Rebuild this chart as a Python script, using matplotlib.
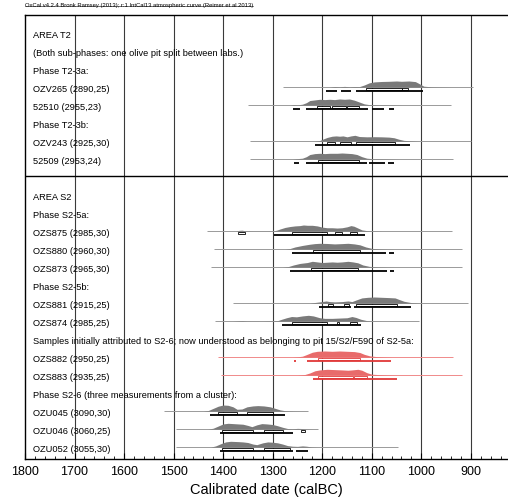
import matplotlib
matplotlib.use("Agg")
import matplotlib.pyplot as plt
from matplotlib.patches import Rectangle
from matplotlib.ticker import MultipleLocator
import numpy as np

plt.rcParams["font.family"] = ["Liberation Sans", "DejaVu Sans"]

title = "OxCal v4.2.4 Bronk Ramsey (2013); r:1 IntCal13 atmospheric curve (Reimer et al 2013)"

# text lines, one per row (row 8 is the section divider)
label_rows = [0, 1, 2, 3, 4, 5, 6, 7, 9, 10, 11, 12, 13, 14, 15, 16, 17, 18, 19, 20, 21, 22, 23]
labels = [
    "AREA T2",
    "(Both sub-phases: one olive pit split between labs.)",
    "Phase T2-3a:",
    "OZV265 (2890,25)",
    "52510 (2955,23)",
    "Phase T2-3b:",
    "OZV243 (2925,30)",
    "52509 (2953,24)",
    "AREA S2",
    "Phase S2-5a:",
    "OZS875 (2985,30)",
    "OZS880 (2960,30)",
    "OZS873 (2965,30)",
    "Phase S2-5b:",
    "OZS881 (2915,25)",
    "OZS874 (2985,25)",
    "Samples initially attributed to S2-6; now understood as belonging to pit 15/S2/F590 of S2-5a:",
    "OZS882 (2950,25)",
    "OZS883 (2935,25)",
    "Phase S2-6 (three measurements from a cluster):",
    "OZU045 (3090,30)",
    "OZU046 (3060,25)",
    "OZU052 (3055,30)",
]

# calibrated samples
sample_rows = [3, 4, 6, 7, 11, 12, 13, 15, 16, 18, 19, 21, 22, 23]
sample_red = [False] * 9 + [True, True] + [False] * 3
line_from = [1280, 1350, 1346, 1346, 1433, 1419, 1424, 1380, 1416, 1410, 1404, 1520, 1495, 1495]
line_to = [896, 941, 900, 936, 938, 918, 918, 906, 1004, 936, 918, 1229, 1209, 1047]

dist_years = [
    [1185, 1175, 1165, 1155, 1145, 1135, 1125, 1115, 1105, 1095, 1080, 1065, 1050, 1040, 1025, 1012, 1005, 995, 980, 960, 940],
    [1265, 1258, 1250, 1240, 1232, 1225, 1215, 1205, 1195, 1185, 1175, 1165, 1155, 1145, 1135, 1125, 1115, 1105, 1085, 1070, 1055, 1040],
    [1215, 1205, 1198, 1190, 1180, 1172, 1165, 1158, 1150, 1142, 1134, 1125, 1110, 1095, 1080, 1065, 1055, 1045, 1035, 1020, 1005],
    [1260, 1250, 1240, 1232, 1225, 1215, 1205, 1195, 1185, 1170, 1160, 1150, 1140, 1130, 1120, 1110, 1095, 1075, 1060, 1045],
    [1375, 1368, 1362, 1355, 1340, 1300, 1292, 1285, 1275, 1265, 1255, 1245, 1238, 1230, 1220, 1210, 1200, 1190, 1180, 1170, 1160, 1150, 1142, 1136, 1128, 1120, 1110, 1095, 1080],
    [1275, 1265, 1255, 1240, 1225, 1215, 1205, 1190, 1175, 1160, 1148, 1135, 1124, 1112, 1100, 1085, 1070, 1055],
    [1280, 1268, 1258, 1245, 1230, 1220, 1210, 1200, 1190, 1180, 1170, 1160, 1148, 1138, 1128, 1118, 1105, 1090, 1070, 1055],
    [1225, 1215, 1205, 1192, 1185, 1175, 1160, 1148, 1140, 1132, 1120, 1108, 1095, 1080, 1065, 1053, 1045, 1035, 1020, 1005, 990],
    [1380, 1370, 1362, 1352, 1320, 1290, 1282, 1272, 1262, 1252, 1240, 1228, 1218, 1205, 1195, 1180, 1165, 1150, 1140, 1132, 1122, 1110, 1095, 1080],
    [1260, 1250, 1240, 1232, 1220, 1210, 1195, 1180, 1165, 1150, 1135, 1124, 1115, 1104, 1090, 1075, 1060],
    [1250, 1235, 1225, 1215, 1205, 1190, 1175, 1160, 1148, 1140, 1128, 1120, 1110, 1100, 1085, 1070, 1050],
    [1440, 1430, 1420, 1410, 1400, 1390, 1380, 1372, 1362, 1352, 1340, 1330, 1318, 1305, 1295, 1285, 1275, 1260, 1245],
    [1430, 1420, 1410, 1400, 1390, 1380, 1370, 1360, 1350, 1342, 1332, 1322, 1312, 1300, 1290, 1280, 1270, 1260, 1250, 1242, 1232, 1220],
    [1425, 1415, 1405, 1395, 1385, 1370, 1360, 1350, 1340, 1332, 1320, 1310, 1300, 1290, 1280, 1270, 1260, 1250, 1240, 1232, 1222, 1210],
]
dist_heights = [
    [0, 0.1, 0.05, 0.12, 0.05, 0.1, 0.08, 0.35, 0.7, 0.85, 0.92, 0.95, 1.0, 0.95, 1.0, 0.9, 0.6, 0.15, 0.05, 0.02, 0],
    [0, 0.08, 0.05, 0.15, 0.4, 0.75, 0.85, 0.95, 0.9, 0.95, 0.9, 1.0, 0.95, 1.0, 0.8, 0.5, 0.2, 0.08, 0.05, 0.04, 0.03, 0],
    [0, 0.1, 0.35, 0.6, 0.8, 0.85, 0.8, 0.85, 0.7, 0.85, 0.95, 0.75, 0.7, 0.72, 0.7, 0.65, 0.55, 0.3, 0.12, 0.05, 0],
    [0, 0.08, 0.15, 0.4, 0.75, 0.9, 0.95, 0.9, 0.95, 0.95, 1.0, 0.95, 0.9, 0.75, 0.4, 0.15, 0.05, 0.04, 0.02, 0],
    [0, 0.12, 0.15, 0.05, 0.02, 0.03, 0.15, 0.35, 0.6, 0.75, 0.85, 0.9, 1.0, 0.95, 0.95, 0.85, 0.65, 0.55, 0.55, 0.5, 0.55, 0.7, 0.9, 0.8, 0.5, 0.2, 0.08, 0.03, 0],
    [0, 0.1, 0.35, 0.6, 0.8, 0.9, 0.95, 0.92, 0.85, 0.9, 0.95, 0.85, 0.7, 0.35, 0.12, 0.05, 0.02, 0],
    [0, 0.1, 0.35, 0.6, 0.75, 0.95, 0.85, 0.75, 0.8, 0.85, 0.8, 0.85, 0.95, 0.85, 0.7, 0.35, 0.12, 0.05, 0.02, 0],
    [0, 0.1, 0.2, 0.35, 0.25, 0.2, 0.25, 0.35, 0.25, 0.5, 0.85, 0.95, 1.0, 0.95, 0.9, 0.85, 0.6, 0.3, 0.08, 0.02, 0],
    [0, 0.05, 0.08, 0.03, 0.02, 0.08, 0.3, 0.55, 0.75, 0.7, 0.85, 0.95, 0.85, 0.55, 0.45, 0.45, 0.5, 0.55, 0.75, 0.6, 0.3, 0.08, 0.02, 0],
    [0, 0.05, 0.15, 0.4, 0.8, 0.95, 1.0, 0.95, 1.0, 0.95, 0.9, 0.75, 0.45, 0.2, 0.08, 0.03, 0],
    [0, 0.1, 0.35, 0.7, 0.85, 0.95, 0.9, 0.85, 0.8, 0.85, 0.95, 0.8, 0.4, 0.15, 0.08, 0.03, 0],
    [0, 0.1, 0.45, 0.8, 1.0, 0.95, 0.7, 0.3, 0.35, 0.7, 0.85, 0.9, 0.85, 0.7, 0.45, 0.2, 0.07, 0.02, 0],
    [0, 0.15, 0.5, 0.85, 0.95, 0.9, 0.85, 0.8, 0.6, 0.4, 0.7, 0.9, 0.85, 0.75, 0.55, 0.3, 0.1, 0.06, 0.12, 0.1, 0.03, 0],
    [0, 0.2, 0.55, 0.85, 0.95, 0.9, 0.85, 0.75, 0.5, 0.4, 0.7, 0.85, 0.8, 0.7, 0.5, 0.25, 0.15, 0.12, 0.2, 0.15, 0.04, 0],
]

# 68.2% and 95.4% ranges (from, to) in calBC
ranges68 = [
    [(1112, 1039), (1038, 1027)],
    [(1211, 1185), (1180, 1152), (1149, 1126)],
    [(1191, 1174), (1164, 1142), (1132, 1053)],
    [(1209, 1125)],
    [(1370, 1356), (1261, 1191), (1175, 1160), (1144, 1130)],
    [(1218, 1124)],
    [(1222, 1128)],
    [(1188, 1179), (1156, 1145), (1132, 1050)],
    [(1262, 1191), (1171, 1166), (1144, 1130)],
    [(1209, 1124)],
    [(1209, 1138), (1136, 1110)],
    [(1410, 1373), (1351, 1300)],
    [(1403, 1340), (1318, 1279), (1242, 1234)],
    [(1403, 1340), (1318, 1265)],
]
ranges95 = [
    [(1193, 1170), (1162, 1142), (1132, 997)],
    [(1259, 1244), (1233, 1108), (1100, 1076), (1065, 1055)],
    [(1215, 1023)],
    [(1257, 1246), (1233, 1110), (1105, 1073), (1067, 1055)],
    [(1297, 1114)],
    [(1262, 1071), (1065, 1055)],
    [(1265, 1069), (1063, 1055)],
    [(1207, 1142), (1136, 1020)],
    [(1282, 1122)],
    [(1256, 1252), (1231, 1061)],
    [(1219, 1049)],
    [(1427, 1275)],
    [(1406, 1259)],
    [(1406, 1258), (1253, 1229)],
]

fig = plt.figure(figsize=(5.08, 5.02), dpi=100)
ax = fig.add_axes([25 / 508, 42 / 502, 483 / 508, 444 / 502])
ax.set_xlim(1800, 825)
ax.set_ylim(23.61, -1.056)

for s in ["left", "top", "bottom"]:
    ax.spines[s].set_linewidth(1.0)
    ax.spines[s].set_color("black")
ax.spines["right"].set_visible(False)

# vertical grid at each century
for yr in range(1700, 825, -100):
    ax.axvline(yr, color="#3a3a3a", linewidth=0.8, zorder=1)
ax.axhline(7.9, color="black", linewidth=1.0, zorder=2)

ax.set_xticks(list(range(1800, 825, -100)))
ax.set_xticklabels([str(v) for v in range(1800, 825, -100)], fontsize=9)
ax.xaxis.set_minor_locator(MultipleLocator(20))
ax.tick_params(axis="x", which="major", direction="in", length=4, width=0.8, pad=4)
ax.tick_params(axis="x", which="minor", direction="in", length=2.5, width=0.6)
ax.set_yticks([])
ax.set_xlabel("Calibrated date (calBC)", fontsize=10.5, labelpad=4)

for r, txt in zip(label_rows, labels):
    ax.text(1784, r, txt, fontsize=6.7, va="center", ha="left", zorder=3)

h_scale = 0.34
for i, r in enumerate(sample_rows):
    base = r - 0.05
    if sample_red[i]:
        line_c, fill_c, bar_c = "#f08a8a", "#e86b6b", "#e03838"
    else:
        line_c, fill_c, bar_c = "#9a9a9a", "#7a7a7a", "black"
    ax.hlines(base, line_from[i], line_to[i], color=line_c, linewidth=0.7, zorder=2)
    yrs = np.array(dist_years[i])
    hts = np.array(dist_heights[i])
    ax.fill_between(yrs, base, base - hts * h_scale, color=fill_c, linewidth=0, zorder=3)
    for a, b in ranges68[i]:
        ax.add_patch(Rectangle((a, base + 0.065), b - a, 0.09, facecolor="white",
                               edgecolor=bar_c, linewidth=0.6, zorder=4))
    for a, b in ranges95[i]:
        ax.hlines(base + 0.24, a, b, color=bar_c, linewidth=1.3, zorder=4)

t = fig.text(25 / 508, 1 - 5 / 502, title, fontsize=4.2, va="center", ha="left")
fig.canvas.draw()
bb = t.get_window_extent().transformed(fig.transFigure.inverted())
fig.add_artist(plt.Line2D([bb.x0, bb.x1], [bb.y0 + 0.001, bb.y0 + 0.001], color="black",
                          linewidth=0.4, transform=fig.transFigure))

fig.savefig("out.png", dpi=100)
